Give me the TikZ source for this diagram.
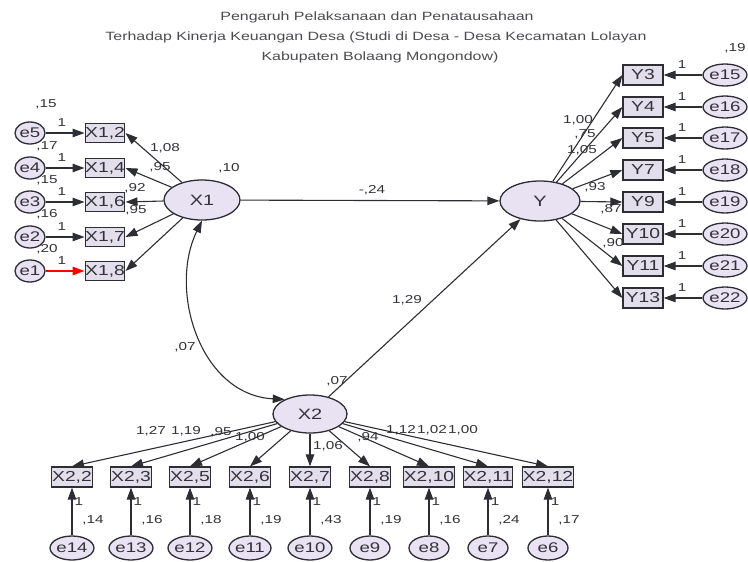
\documentclass[tikz,border=0pt]{standalone}
\usepackage{fontspec}
\setmainfont{Liberation Sans}[FakeStretch=1.33]
\usetikzlibrary{shapes.geometric,arrows.meta}
\definecolor{edge}{RGB}{45,45,52}
\definecolor{lav}{RGB}{232,226,242}
\definecolor{boxlav}{RGB}{226,222,236}
\definecolor{ink}{RGB}{50,50,56}
\definecolor{titleink}{RGB}{75,75,80}
\tikzset{
  latent/.style={ellipse,draw=edge,fill=lav,line width=1.3pt,inner sep=0pt,
    minimum width=76pt,minimum height=40pt,text=ink,font=\fontsize{15}{17}\selectfont},
  obs/.style={rectangle,draw=edge,fill=boxlav,line width=1.3pt,inner sep=0pt,
    minimum width=38pt,minimum height=19pt,text=ink,font=\fontsize{14.5}{16}\selectfont},
  err/.style={ellipse,draw=edge,fill=lav,line width=1.3pt,inner sep=0pt,
    minimum width=30pt,minimum height=22pt,text=ink,font=\fontsize{14}{16}\selectfont},
  lbl/.style={text=ink,inner sep=0pt,font=\fontsize{11.5}{13}\selectfont},
  ttl/.style={text=titleink,inner sep=0pt,font=\fontsize{12}{14}\selectfont},
  tip/.tip={Triangle[length=12pt,width=8.5pt]},
  arr/.style={draw=edge,line width=1.1pt,-tip},
}
\begin{document}
\begin{tikzpicture}[x=1pt,y=-1pt]
\useasboundingbox (0,0) rectangle (748,562);

% title
\node[ttl] (t1) at (377,17) {Pengaruh Pelaksanaan dan Penatausahaan};
\node[ttl] (t2) at (376,37) {Terhadap Kinerja Keuangan Desa (Studi di Desa - Desa Kecamatan Lolayan};
\node[ttl] (t3) at (380,57) {Kabupaten Bolaang Mongondow)};

% latent variables
\node[latent] (x1) at (202,200) {X1};
\node[latent,minimum width=80pt] (y) at (540,201) {Y};
\node[latent,minimum width=74pt,minimum height=38pt] (x2) at (310,414) {X2};

% X1 indicators and their errors
\foreach \n/\yy/\e in {2/133/5,4/168/4,6/202/3,7/237/2,8/271/1}{
  \node[obs] (x1i\n) at (105,\yy) {X1,\n};
  \node[err] (e\e) at (30,\yy) {e\e};
  \draw[arr] (x1) -- (x1i\n.east);
  \node[lbl] at (62,\yy-10) {1};
}
\foreach \n/\e in {2/5,4/4,6/3,7/2}{
  \draw[arr] (e\e) -- (x1i\n.west);
}
\draw[draw=red,line width=1.1pt,-tip] (e1) -- (x1i8.west);

\node[lbl] at (46,104) {,15};
\node[lbl] at (47,146) {,17};
\node[lbl] at (47,180) {,15};
\node[lbl] at (47,214) {,16};
\node[lbl] at (47,249) {,20};

\node[lbl] at (165,148) {1,08};
\node[lbl] at (160,167) {,95};
\node[lbl] at (135,188) {,92};
\node[lbl] at (136,210) {,95};

% Y indicators and their errors
\foreach \n/\yy/\e in {3/75/15,4/107/16,5/138/17,7/170/18,9/202/19,10/234/20,11/266/21,13/298/22}{
  \node[obs,minimum width=40pt,minimum height=20pt] (yi\n) at (643,\yy) {Y\n};
  \node[err,minimum width=36pt] (e\e) at (725,\yy) {e\e};
  \draw[arr] (y) -- (yi\n.west);
  \draw[arr] (e\e) -- (yi\n.east);
  \node[lbl] at (682,\yy-10) {1};
}
\node[lbl] at (735,48) {,19};
\node[lbl] at (578,120) {1,00};
\node[lbl] at (585,134) {,75};
\node[lbl] at (582,150) {1,05};
\node[lbl] at (595,187) {,93};
\node[lbl] at (611,209) {,87};
\node[lbl] at (613,243) {,90};

% X2 indicators and their errors
\foreach \n/\xx/\e/\v in {2/72/14/14,3/131/13/16,5/190/12/18,6/250/11/19,7/310/10/43,8/370/9/19,10/429/8/16,11/488/7/24,12/548/6/17}{
  \node[obs,minimum width=41pt,minimum height=20pt] (x2i\n) at (\xx,477) {X2,\n};
  \node[err,minimum width=40pt,minimum height=24pt] (e\e) at (\xx,548) {e\e};
  \draw[arr] (x2) -- (x2i\n.north);
  \draw[arr] (e\e) -- (x2i\n.south);
  \node[lbl] at (\xx+7,502) {1};
  \node[lbl] at (\xx+21,520) {,\v};
}
\node[lbl] at (151,431) {1,27};
\node[lbl] at (186,431) {1,19};
\node[lbl] at (221,432) {,95};
\node[lbl] at (250,437) {1,00};
\node[lbl] at (328,446) {1,06};
\node[lbl] at (368,437) {,94};
\node[lbl] at (401,430) {1,12};
\node[lbl] at (432,430) {1,02};
\node[lbl] at (463,430) {1,00};

% structural paths
\draw[arr] (x1) -- (y);
\draw[arr] (x2) -- (y);
\draw[draw=edge,line width=1.1pt,tip-tip]
  (x1.south) .. controls (168,290) and (200,395) .. (x2.150);

\node[lbl] at (229,168) {,10};
\node[lbl] at (337,381) {,07};
\node[lbl] at (372,190) {-,24};
\node[lbl] at (407,300) {1,29};
\node[lbl] at (185,347) {,07};
\end{tikzpicture}
\end{document}
